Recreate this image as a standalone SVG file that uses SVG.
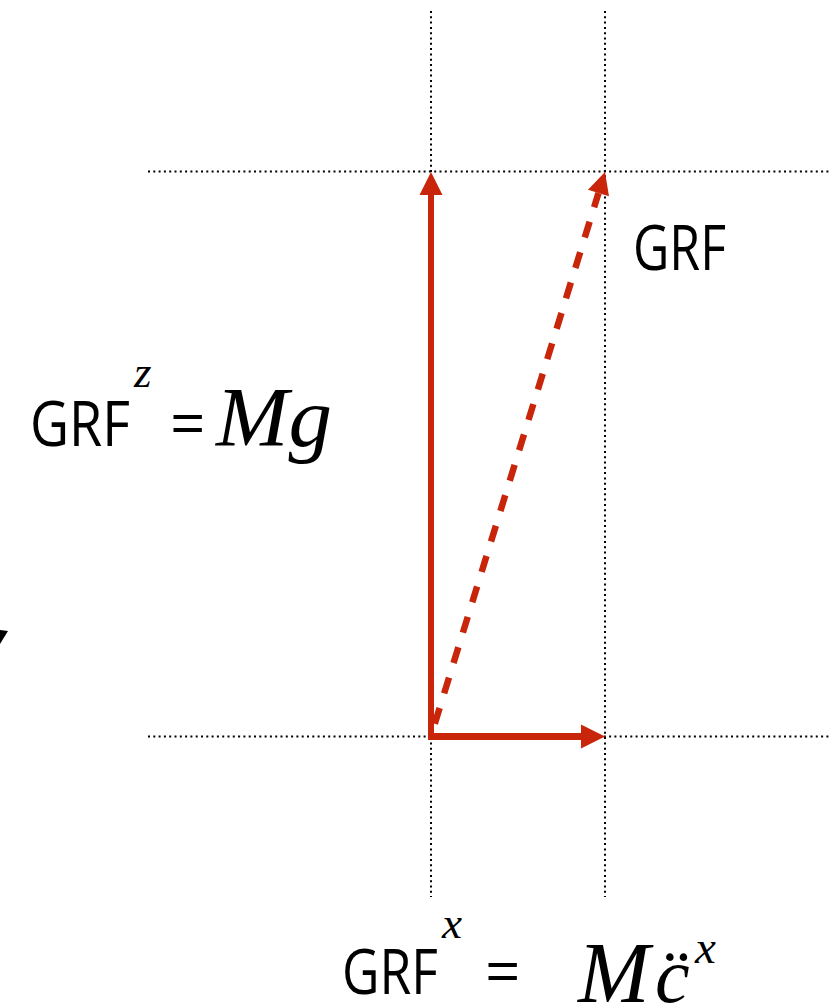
<svg xmlns="http://www.w3.org/2000/svg" width="831" height="1006" viewBox="0 0 831 1006">
<style>
.grid{stroke:#000;stroke-width:2;stroke-dasharray:2 3.3;fill:none}
.arr{stroke:#C8250A;fill:none}
.head{fill:#C8250A}
.sans{font-family:"Open Sans","Noto Sans","Liberation Sans",sans-serif;fill:#000}
.math{font-family:"Liberation Serif","DejaVu Serif",serif;font-style:italic;fill:#000}
</style>
<rect width="831" height="1006" fill="#fff"/>
<g id="guides">
<line class="grid" x1="431" y1="11" x2="431" y2="897"/>
<line class="grid" x1="605" y1="11" x2="605" y2="897"/>
<line class="grid" x1="148" y1="171.5" x2="831" y2="171.5"/>
<line class="grid" x1="148" y1="736.5" x2="831" y2="736.5"/>
</g>
<g id="connectors">
<line class="arr" x1="431" y1="740" x2="431" y2="192" stroke-width="6"/>
<polygon class="head" points="431,172 419.5,195 442.5,195"/>
<line class="arr" x1="428" y1="736.5" x2="584" y2="736.5" stroke-width="7"/>
<polygon class="head" points="605,736.5 581,724.5 581,748.5"/>
<line class="arr" x1="431" y1="736" x2="598.5" y2="193" stroke-width="6.5" stroke-dasharray="16.5 15.3" stroke-dashoffset="19"/>
<polygon class="head" points="605,172 609,196.3 588,189.8"/>
</g>
<g id="edge-mark">
<polygon points="0,630 8,631 0,644" fill="#000"/>
</g>
<g id="label-grf">
<text class="sans" x="633" y="270" font-size="62" textLength="93" lengthAdjust="spacingAndGlyphs">GRF</text>
</g>
<g id="label-grfz">
<text class="sans" x="30" y="446" font-size="62" textLength="100" lengthAdjust="spacingAndGlyphs">GRF</text>
<text class="math" x="134" y="387" font-size="45">z</text>
<text class="sans" x="170" y="446" font-size="62">=</text>
<text class="math" x="216" y="446" font-size="85" textLength="116" lengthAdjust="spacingAndGlyphs">Mg</text>
</g>
<g id="label-grfx">
<text class="sans" x="342" y="994" font-size="62" textLength="96" lengthAdjust="spacingAndGlyphs">GRF</text>
<text class="math" x="442" y="938" font-size="45">x</text>
<text class="sans" x="485" y="994" font-size="62">=</text>
<text class="math" x="578" y="1002" font-size="86">M</text>
<text class="math" x="655" y="1002" font-size="78">c̈</text>
<text class="math" x="695" y="963" font-size="47">x</text>
</g>
</svg>
